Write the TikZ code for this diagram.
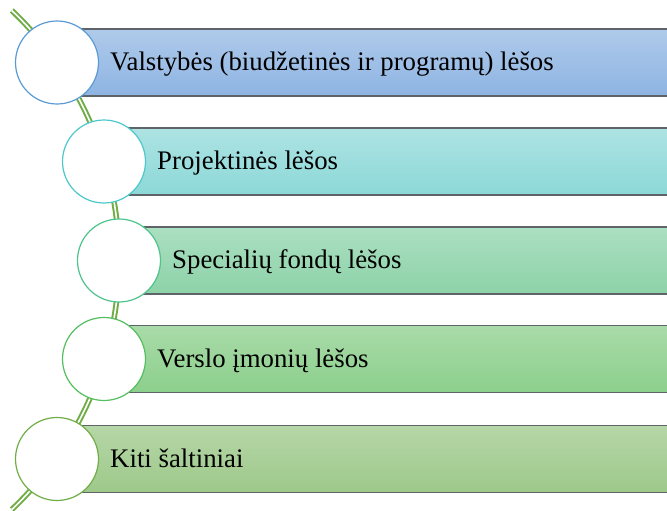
\documentclass[tikz,border=0pt]{standalone}
\usepackage{fontspec}
\setmainfont{Liberation Serif}
\definecolor{stemgreen}{HTML}{70AD47}
\definecolor{edgegray}{HTML}{5F6468}
\definecolor{ringA}{HTML}{5B9BD5}
\definecolor{ringB}{HTML}{4CC8CC}
\definecolor{ringC}{HTML}{4CC48C}
\definecolor{ringD}{HTML}{54BF5E}
\definecolor{ringE}{HTML}{70AD47}
\definecolor{barAtop}{HTML}{AFCAEA}
\definecolor{barAbot}{HTML}{8EB4E3}
\definecolor{barBtop}{HTML}{AEE3E3}
\definecolor{barBbot}{HTML}{8CD8D8}
\definecolor{barCtop}{HTML}{ABDFC1}
\definecolor{barCbot}{HTML}{8DD2A8}
\definecolor{barDtop}{HTML}{A9DBA9}
\definecolor{barDbot}{HTML}{8CCF8C}
\definecolor{barEtop}{HTML}{B6D6A7}
\definecolor{barEbot}{HTML}{9DC98A}
\begin{document}
\begin{tikzpicture}[x=1pt,y=-1pt,
  listbar/.style={rectangle, draw=edgegray, line width=1.1pt, inner sep=0pt,
    minimum height=67pt, anchor=west},
  ring/.style={circle, fill=white, line width=1.2pt, inner sep=0pt, minimum size=83pt},
  itemtext/.style={anchor=base west, inner sep=0pt, font=\fontsize{26.8}{30}\selectfont},
  stem/.style={draw=stemgreen, line width=2pt, double=white, double distance=1.6pt}]
\useasboundingbox (0,0) rectangle (667,511);
\clip (0,0) rectangle (667,511);

% curved stem behind the list
\coordinate (stemtop) at (11.8,10.5);
\draw[stem] (stemtop) arc[start angle=46.5, end angle=-46.5, radius=344pt];

% bars
\node[listbar, minimum width=640pt, top color=barAtop, bottom color=barAbot] (b1) at (57,62.5) {};
\node[listbar, minimum width=600pt, top color=barBtop, bottom color=barBbot] (b2) at (104,161.5) {};
\node[listbar, minimum width=580pt, top color=barCtop, bottom color=barCbot] (b3) at (119,260.5) {};
\node[listbar, minimum width=600pt, top color=barDtop, bottom color=barDbot] (b4) at (104,359) {};
\node[listbar, minimum width=640pt, top color=barEtop, bottom color=barEbot] (b5) at (57,459) {};

% rings
\node[ring, draw=ringA] (c1) at (57,62.5) {};
\node[ring, draw=ringB] (c2) at (104,161.5) {};
\node[ring, draw=ringC] (c3) at (119,260.5) {};
\node[ring, draw=ringD] (c4) at (104,359) {};
\node[ring, draw=ringE] (c5) at (57,459) {};

% labels
\node[itemtext] (t1) at (110,70.5) {Valstybės (biudžetinės ir programų) lėšos};
\node[itemtext] (t2) at (157,169.5) {Projektinės lėšos};
\node[itemtext] (t3) at (172,268.5) {Specialių fondų lėšos};
\node[itemtext] (t4) at (157,367) {Verslo įmonių lėšos};
\node[itemtext] (t5) at (110,467) {Kiti šaltiniai};
\end{tikzpicture}
\end{document}
